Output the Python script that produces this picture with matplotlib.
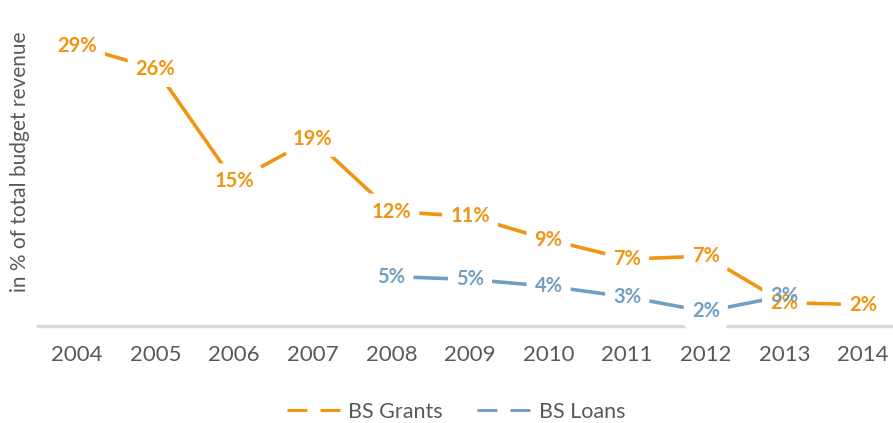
import matplotlib
matplotlib.use('Agg')
import matplotlib.pyplot as plt
from matplotlib.lines import Line2D

years = ['2004', '2005', '2006', '2007', '2008', '2009', '2010', '2011', '2012', '2013', '2014']
grants = [28.9, 26.5, 14.9, 19.3, 11.8, 11.3, 8.9, 6.9, 7.2, 2.4, 2.2]
loan_years = ['2008', '2009', '2010', '2011', '2012', '2013']
loans = [5.1, 4.8, 4.1, 3.0, 1.5, 3.1]

orange = '#EF9512'
blue = '#709FC2'
grey_text = '#595959'

plt.rcParams['font.family'] = ['Lato', 'DejaVu Sans']

fig = plt.figure(figsize=(8.93, 4.23), dpi=100)
ax = fig.add_axes([37.7 / 893, 97 / 423, 864.6 / 893, 291 / 423])

xg = [years.index(y) for y in years]
xl = [years.index(y) for y in loan_years]

ax.plot(xg, grants, color=orange, lw=2.6, solid_capstyle='butt', zorder=2)
ax.plot(xl, loans, color=blue, lw=2.6, solid_capstyle='butt', zorder=2)

# white blobs behind the value labels first, then the labels on top
for xs, vals, col in [(xg, grants, orange), (xl, loans, blue)]:
    for x, v in zip(xs, vals):
        ax.text(x, v, f'{v:.0f}%', ha='center', va='center', fontsize=14.5,
                fontweight='bold', color='white', zorder=3, clip_on=False,
                bbox=dict(boxstyle='round,pad=0.4', fc='white', ec='none'))
for xs, vals, col in [(xg, grants, orange), (xl, loans, blue)]:
    for x, v in zip(xs, vals):
        ax.text(x, v, f'{v:.0f}%', ha='center', va='center', fontsize=14.5,
                fontweight='bold', color=col, zorder=5, clip_on=False)

ax.set_xlim(-0.5, 10.5)
ax.set_ylim(0, 30)
ax.set_xticks(range(len(years)))
ax.set_xticklabels(years)
ax.set_yticks([])
for s in ['top', 'right', 'left']:
    ax.spines[s].set_visible(False)
ax.spines['bottom'].set_color('#D9D9D9')
ax.spines['bottom'].set_linewidth(2.4)
ax.spines['bottom'].set_zorder(1)
ax.tick_params(axis='x', length=0, pad=14, labelsize=16, labelcolor=grey_text)

fig.text(20 / 893, 1 - 162 / 423, 'in % of total budget revenue', rotation=90,
         ha='center', va='center', fontsize=15, color=grey_text)

handles = [
    Line2D([], [], color=orange, lw=2.2, linestyle=(0, (6.5, 4.3))),
    Line2D([], [], color=blue, lw=2.2, linestyle=(0, (6.5, 4.3))),
]
fig.legend(handles, ['BS Grants', 'BS Loans'], loc='center',
           bbox_to_anchor=(456 / 893, 1 - 412 / 423), ncol=2, frameon=False,
           fontsize=15.5, labelcolor=grey_text, handlelength=2.7,
           handletextpad=0.15, columnspacing=1.6)

fig.savefig('out.png', dpi=100)
